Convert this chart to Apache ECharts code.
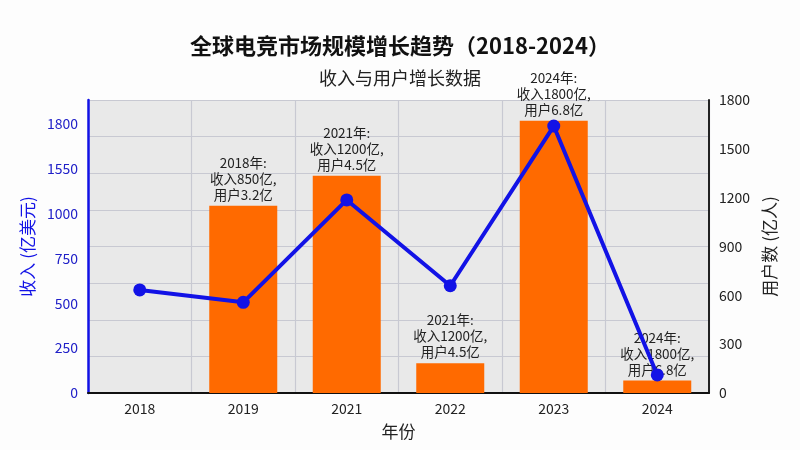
<!DOCTYPE html>
<html>
<head>
<meta charset="utf-8">
<style>
  html, body { margin: 0; padding: 0; background: #fdfdfd; }
  #chart { width: 800px; height: 450px; }
</style>
<script src="https://cdn.jsdelivr.net/npm/echarts@6/dist/echarts.min.js"></script>
</head>
<body>
<div id="chart"></div>
<script>
// 数据
var years = ["2018", "2019", "2021", "2022", "2023", "2024"];
var revenueBars = [null, 1253, 1454, 199, 1822, 84]; // 左轴
var userLine = [633, 557, 1186, 659, 1640, 111]; // 右轴
var noteYears = ["", "2018", "2021", "2021", "2024", "2024"];
var noteRevenue = ["", "850", "1200", "1200", "1800", "1800"];
var noteUsers = ["", "3.2", "4.5", "4.5", "6.8", "6.8"];
var leftTickLabels = ["0", "250", "500", "750", "1000", "1550", "1800"];

var font = "'Noto Sans CJK SC', 'Noto Sans', sans-serif";
var blue = "#1212e6";

var chart = echarts.init(document.getElementById("chart"));
var option = {
  textStyle: { fontFamily: font },
  title: [
    {
      text: "全球电竞市场规模增长趋势（2018-2024）",
      left: "center",
      top: 30,
      textStyle: { fontSize: 22, fontWeight: "bold", color: "#111", fontFamily: font }
    },
    {
      text: "收入与用户增长数据",
      left: "center",
      top: 64,
      textStyle: { fontSize: 18, fontWeight: "normal", color: "#222", fontFamily: font }
    }
  ],
  grid: {
    left: 88,
    right: 91,
    top: 100,
    bottom: 57,
    show: true,
    backgroundColor: "#e9e9e9",
    borderWidth: 0
  },
  xAxis: {
    type: "category",
    data: years,
    name: "年份",
    nameLocation: "middle",
    nameGap: 30,
    nameTextStyle: { fontSize: 17, color: "#222" },
    axisLine: { lineStyle: { color: "#111", width: 2 } },
    axisTick: { show: false },
    axisLabel: { fontSize: 14, color: "#222", margin: 9 },
    splitLine: { show: true, interval: 0, lineStyle: { color: "#c8c9d2", width: 1.2 } }
  },
  yAxis: [
    {
      type: "value",
      min: 0,
      max: 1960,
      interval: 300,
      position: "left",
      name: "收入 (亿美元)",
      nameLocation: "middle",
      nameRotate: 90,
      nameGap: 48,
      nameTextStyle: { fontSize: 17, color: blue },
      axisLine: { show: true, lineStyle: { color: blue, width: 2.5 } },
      axisTick: { show: false },
      axisLabel: {
        fontSize: 14,
        color: "#2020c8",
        margin: 10,
        formatter: function (v) {
          var i = v / 300;
          return leftTickLabels[i] !== undefined ? leftTickLabels[i] : "";
        }
      },
      splitLine: { show: false }
    },
    {
      type: "value",
      min: 0,
      max: 1800,
      interval: 300,
      position: "right",
      name: "用户数 (亿人)",
      nameLocation: "middle",
      nameRotate: 90,
      nameGap: 41,
      nameTextStyle: { fontSize: 17, color: "#222" },
      axisLine: { show: true, lineStyle: { color: "#222", width: 2 } },
      axisTick: { show: false },
      axisLabel: {
        fontSize: 14,
        color: "#222",
        margin: 10,
        formatter: function (v) { return String(v); }
      },
      splitLine: { show: false }
    },
    {
      // 背景横线
      type: "value",
      min: 0,
      max: 8,
      interval: 1,
      show: true,
      axisLine: { show: false },
      axisTick: { show: false },
      axisLabel: { show: false },
      splitLine: { show: true, lineStyle: { color: "#c8c9d2", width: 1.2 } }
    }
  ],
  series: [
    {
      name: "收入",
      type: "bar",
      yAxisIndex: 0,
      data: revenueBars,
      barWidth: 68,
      itemStyle: { color: "#ff6a00" },
      label: {
        show: true,
        position: "top",
        distance: 3,
        fontSize: 13.5,
        lineHeight: 16,
        color: "#222",
        formatter: function (p) {
          var i = p.dataIndex;
          return noteYears[i] + "年:\n收入" + noteRevenue[i] + "亿,\n用户" + noteUsers[i] + "亿";
        }
      }
    },
    {
      name: "用户",
      type: "line",
      yAxisIndex: 1,
      data: userLine,
      z: 5,
      symbol: "circle",
      symbolSize: 13,
      lineStyle: { color: blue, width: 4 },
      itemStyle: { color: blue }
    }
  ]
};
chart.setOption(option);
</script>
</body>
</html>
